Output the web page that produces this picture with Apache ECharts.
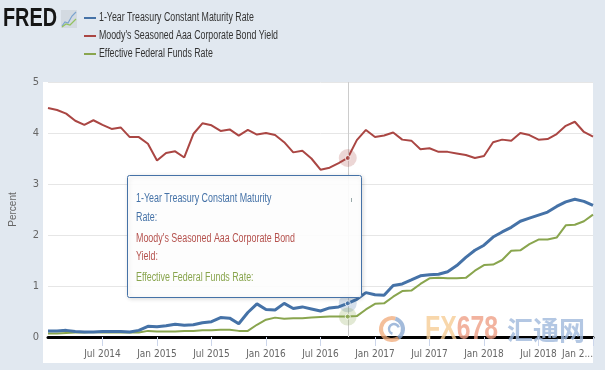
<!DOCTYPE html>
<html><head><meta charset="utf-8">
<script src="https://cdn.jsdelivr.net/npm/echarts@6/dist/echarts.min.js"></script>
<style>html,body{margin:0;padding:0;background:#e1e8f0}#c{width:605px;height:370px}</style>
</head><body><div id="c"></div><script>
const months = ['2014-01','2014-02','2014-03','2014-04','2014-05','2014-06','2014-07','2014-08','2014-09','2014-10','2014-11','2014-12',
'2015-01','2015-02','2015-03','2015-04','2015-05','2015-06','2015-07','2015-08','2015-09','2015-10','2015-11','2015-12',
'2016-01','2016-02','2016-03','2016-04','2016-05','2016-06','2016-07','2016-08','2016-09','2016-10','2016-11','2016-12',
'2017-01','2017-02','2017-03','2017-04','2017-05','2017-06','2017-07','2017-08','2017-09','2017-10','2017-11','2017-12',
'2018-01','2018-02','2018-03','2018-04','2018-05','2018-06','2018-07','2018-08','2018-09','2018-10','2018-11','2018-12',
'2019-01'];
const treasury1y = [0.12,0.12,0.13,0.11,0.10,0.10,0.11,0.11,0.11,0.10,0.13,0.21,
0.20,0.22,0.25,0.23,0.24,0.28,0.30,0.38,0.37,0.26,0.48,0.65,
0.54,0.53,0.66,0.56,0.59,0.55,0.51,0.57,0.59,0.66,0.74,0.87,
0.83,0.82,1.01,1.04,1.12,1.20,1.22,1.23,1.28,1.40,1.56,1.70,
1.80,1.96,2.06,2.15,2.27,2.33,2.39,2.45,2.56,2.65,2.70,2.66,
2.58];
const aaaYield = [4.49,4.45,4.38,4.24,4.16,4.25,4.16,4.08,4.11,3.92,3.92,3.79,
3.46,3.61,3.64,3.52,3.98,4.19,4.15,4.04,4.07,3.95,4.06,3.97,
4.00,3.96,3.82,3.62,3.65,3.50,3.28,3.32,3.41,3.51,3.86,4.06,
3.92,3.95,4.01,3.87,3.85,3.68,3.70,3.63,3.63,3.60,3.57,3.51,
3.55,3.82,3.87,3.85,4.00,3.96,3.87,3.88,3.98,4.14,4.22,4.02,
3.93];
const fedFunds = [0.07,0.07,0.08,0.09,0.09,0.10,0.09,0.09,0.09,0.09,0.09,0.12,
0.11,0.11,0.11,0.12,0.12,0.13,0.13,0.14,0.14,0.12,0.12,0.24,
0.34,0.38,0.36,0.37,0.37,0.38,0.39,0.40,0.40,0.40,0.41,0.54,
0.65,0.66,0.79,0.90,0.91,1.04,1.15,1.16,1.15,1.15,1.16,1.30,
1.41,1.42,1.51,1.69,1.70,1.82,1.91,1.91,1.95,2.19,2.20,2.27,
2.40];
const seriesNames = ['1-Year Treasury Constant Maturity Rate','Moody\'s Seasoned Aaa Corporate Bond Yield','Effective Federal Funds Rate'];
const tickMonths = ['2014-07','2015-01','2015-07','2016-01','2016-07','2017-01','2017-07','2018-01','2018-07','2019-01'];
const tickLabels = ['Jul 2014','Jan 2015','Jul 2015','Jan 2016','Jul 2016','Jan 2017','Jul 2017','Jan 2018','Jul 2018','Jan 2...'];
const tooltipLines = ['1-Year Treasury Constant Maturity','Rate:','Moody\'s Seasoned Aaa Corporate Bond','Yield:','Effective Federal Funds Rate:'];
const hoverMonth = '2016-10';

const BLUE='#4572a7', RED='#aa4643', GREEN='#89a54e';
const COLORS=[BLUE,RED,GREEN];
const ctx = document.createElement('canvas').getContext('2d');
function tw(t,f){ctx.font=f;return ctx.measureText(t).width;}
const hasNarrow = tw('Jan 2015 abc',"12px 'Liberation Sans Narrow', monospace") !== tw('Jan 2015 abc','12px monospace');
const NARROW = hasNarrow ? "'Liberation Sans Narrow'" : "'DejaVu Sans Condensed'";
const TXT = "'Liberation Sans'";
const hi = months.indexOf(hoverMonth);
const isTick = (i)=> tickMonths.indexOf(months[i])>=0;

// text scale factors to match the condensed face of the original
const legFont = '12px '+TXT;
const legScale = 179/tw(seriesNames[1],legFont);
const ttFont = '12px '+TXT;
const ttScale = 159/tw(tooltipLines[2],ttFont);
const fredFont = 'bold 25px '+TXT;
const fredScale = 54/tw('FRED',fredFont);
const wmFont = 'bold 33px '+TXT;
const wmScale = 73/tw('FX678',wmFont);
const axFont = hasNarrow ? 11 : 10;

function scaledText(x,y,text,font,fill,s,z){
  return {type:'group',x:x,y:y,scaleX:s,z:z,children:[{type:'text',z:z,style:{x:0,y:0,text:text,font:font,fill:fill,verticalAlign:'middle'}}]};
}
const graphics = [
  {type:'rect',z:-10,silent:true,shape:{x:43,y:82,width:550,height:281},style:{fill:'#ffffff'}},
  scaledText(3,19,'FRED',fredFont,'#151515',fredScale,10),
  {type:'rect',z:10,shape:{x:61,y:10,width:16,height:18},style:{fill:'#d3dae1'}},
  {type:'polyline',z:11,shape:{points:[[62,26],[65,22],[68,23],[72,16],[76,12]]},style:{stroke:'#7aa3cf',lineWidth:1.2,fill:null}},
  {type:'polyline',z:11,shape:{points:[[62,27],[66,24],[70,25],[76,19]]},style:{stroke:'#93c25e',lineWidth:1.2,fill:null}},
  // watermark
  {type:'arc',z:20,shape:{cx:392,cy:329,r:11,startAngle:Math.PI*0.3,endAngle:Math.PI*1.6},style:{stroke:'rgba(240,170,120,0.75)',lineWidth:4,fill:null}},
  {type:'arc',z:20,shape:{cx:392,cy:329,r:11,startAngle:Math.PI*1.6,endAngle:Math.PI*2.3},style:{stroke:'rgba(140,170,210,0.8)',lineWidth:4,fill:null}},
  {type:'arc',z:20,shape:{cx:394,cy:329,r:5,startAngle:Math.PI*0.6,endAngle:Math.PI*1.9},style:{stroke:'rgba(140,170,210,0.8)',lineWidth:2.5,fill:null}},
  scaledText(425,330,'FX',wmFont,'rgba(246,205,150,0.8)',wmScale,20),
  scaledText(425+tw('FX',wmFont)*wmScale,330,'678',wmFont,'rgba(239,160,135,0.8)',wmScale,20),
  {type:'text',z:20,style:{x:507,y:330,text:'汇通网',font:'bold 26px "Noto Sans CJK SC"',fill:'rgba(160,185,220,0.8)',verticalAlign:'middle'}},
  // tooltip
  {type:'rect',z:30,shape:{x:127.5,y:175.5,width:234,height:122,r:2},
    style:{fill:'rgba(255,255,255,0.92)',stroke:BLUE,lineWidth:1,shadowBlur:4,shadowColor:'rgba(0,0,0,0.15)',shadowOffsetX:1,shadowOffsetY:1}},
  {type:'rect',z:31,shape:{x:351,y:198,width:1,height:4},style:{fill:'#9aa'}}
];
const ttY=[199,218,239,257,278], ttC=[BLUE,BLUE,'#b5524e','#b5524e',GREEN];
tooltipLines.forEach((t,i)=>graphics.push(scaledText(136,ttY[i],t,ttFont,ttC[i],ttScale,31)));
seriesNames.forEach((n,i)=>{
  graphics.push({type:'rect',z:10,shape:{x:84,y:17+18*i,width:12,height:2},style:{fill:COLORS[i]}});
  graphics.push(scaledText(99,18+18*i,n,legFont,'#333',legScale,10));
});

const chart = echarts.init(document.getElementById('c'));
function halo(fill, val){
  return {type:'scatter', silent:true, z:5, data:[[hi,val]], symbolSize:18, itemStyle:{color:fill}};
}
function dot(color,val){
  return {type:'scatter', silent:true, z:6, data:[[hi,val]], symbolSize:5,
    itemStyle:{color:color, borderColor:'#fff', borderWidth:1}};
}
chart.setOption({
  backgroundColor:'#e1e8f0',
  animation:false,
  grid:{left:43,right:12,top:82,bottom:33,containLabel:false},
  xAxis:{type:'category',data:months,boundaryGap:false,
    axisLine:{lineStyle:{color:'#000',width:3}},
    axisTick:{show:true,interval:(i)=>isTick(i),length:9,lineStyle:{color:'#ccd6eb'}},
    axisLabel:{interval:(i)=>isTick(i),formatter:(v)=>{const k=tickMonths.indexOf(v);return k>=0?tickLabels[k]:'';},
      color:'#666',fontSize:axFont,margin:12,fontFamily:NARROW,showMaxLabel:true,alignMaxLabel:'right'},
    splitLine:{show:false}},
  yAxis:{type:'value',min:0,max:5,interval:1,
    name:'Percent',nameLocation:'middle',nameGap:30,nameTextStyle:{color:'#666',fontSize:10,fontFamily:TXT},
    axisLine:{show:false},axisTick:{show:false},
    axisLabel:{color:'#666',fontSize:11,margin:9,fontFamily:NARROW},
    splitLine:{lineStyle:{color:'#e6e6e6'}}},
  series:[
    {name:seriesNames[0],type:'line',data:treasury1y,showSymbol:false,color:BLUE,lineStyle:{width:3,color:BLUE},z:3},
    {name:seriesNames[1],type:'line',data:aaaYield,showSymbol:false,color:RED,lineStyle:{width:2,color:RED},z:2,
      markLine:{silent:true,symbol:'none',label:{show:false},lineStyle:{color:'#cccccc',width:1,type:'solid'},data:[{xAxis:hoverMonth}]}},
    {name:seriesNames[2],type:'line',data:fedFunds,showSymbol:false,color:GREEN,lineStyle:{width:2,color:GREEN},z:2},
    halo('rgba(69,114,167,0.28)',treasury1y[hi]),
    halo('rgba(170,70,67,0.28)',aaaYield[hi]),
    halo('rgba(137,165,78,0.3)',fedFunds[hi]),
    dot(BLUE,treasury1y[hi]),dot(RED,aaaYield[hi]),dot(GREEN,fedFunds[hi])
  ],
  graphic:graphics
});
</script></body></html>
